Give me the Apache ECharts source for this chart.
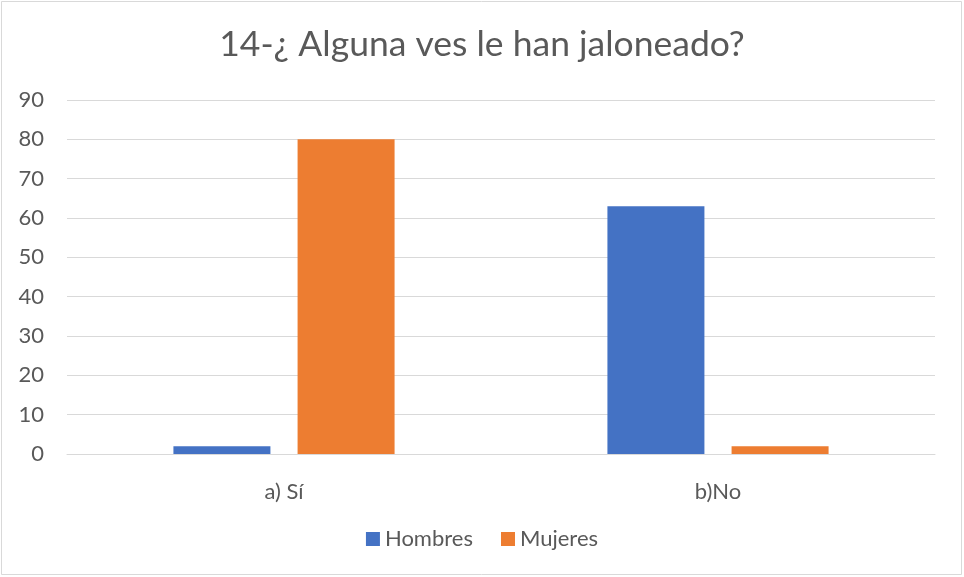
<!DOCTYPE html>
<html><head><meta charset="utf-8">
<script src="https://cdn.jsdelivr.net/npm/echarts@6/dist/echarts.min.js"></script>
<style>html,body{margin:0;padding:0;background:#fff}#c{width:964px;height:577px}</style>
</head><body><div id="c"></div>
<script>
const title = '14-¿ Alguna ves le han jaloneado?';
const categories = ['a) Sí', 'b)No'];
const hombres = [2, 63];
const mujeres = [80, 2];
const yTicks = {min: 0, max: 90, interval: 10};

const chart = echarts.init(document.getElementById('c'));
const font = "Lato, 'Open Sans', sans-serif";
chart.setOption({
  animation: false,
  backgroundColor: '#fff',
  graphic: [{type: 'rect', shape: {x: 1.5, y: 1.5, width: 960, height: 573}, style: {fill: 'none', stroke: '#d9d9d9', lineWidth: 1}}],
  title: {text: title, left: 'center', top: 22, textStyle: {fontFamily: font, fontSize: 35.5, fontWeight: 'normal', color: '#595959'}},
  grid: {left: 67, right: 29, top: 100, bottom: 123},
  legend: {bottom: 22, itemWidth: 14, itemHeight: 14, itemGap: 28, icon: 'rect',
    textStyle: {fontFamily: font, fontSize: 22, color: '#595959'}},
  xAxis: {type: 'category', data: categories,
    axisLine: {lineStyle: {color: '#d9d9d9'}}, axisTick: {show: false},
    axisLabel: {fontFamily: font, fontSize: 22, color: '#595959', margin: 27}},
  yAxis: {type: 'value', min: yTicks.min, max: yTicks.max, interval: yTicks.interval,
    axisLine: {show: false}, axisTick: {show: false},
    splitLine: {lineStyle: {color: '#d9d9d9'}},
    axisLabel: {fontFamily: font, fontSize: 22, color: '#595959', margin: 23}},
  series: [
    {name: 'Hombres', type: 'bar', data: hombres, barWidth: 97, barGap: '28%', itemStyle: {color: '#4472c4'}},
    {name: 'Mujeres', type: 'bar', data: mujeres, barWidth: 97, itemStyle: {color: '#ed7d31'}}
  ]
});
</script></body></html>
